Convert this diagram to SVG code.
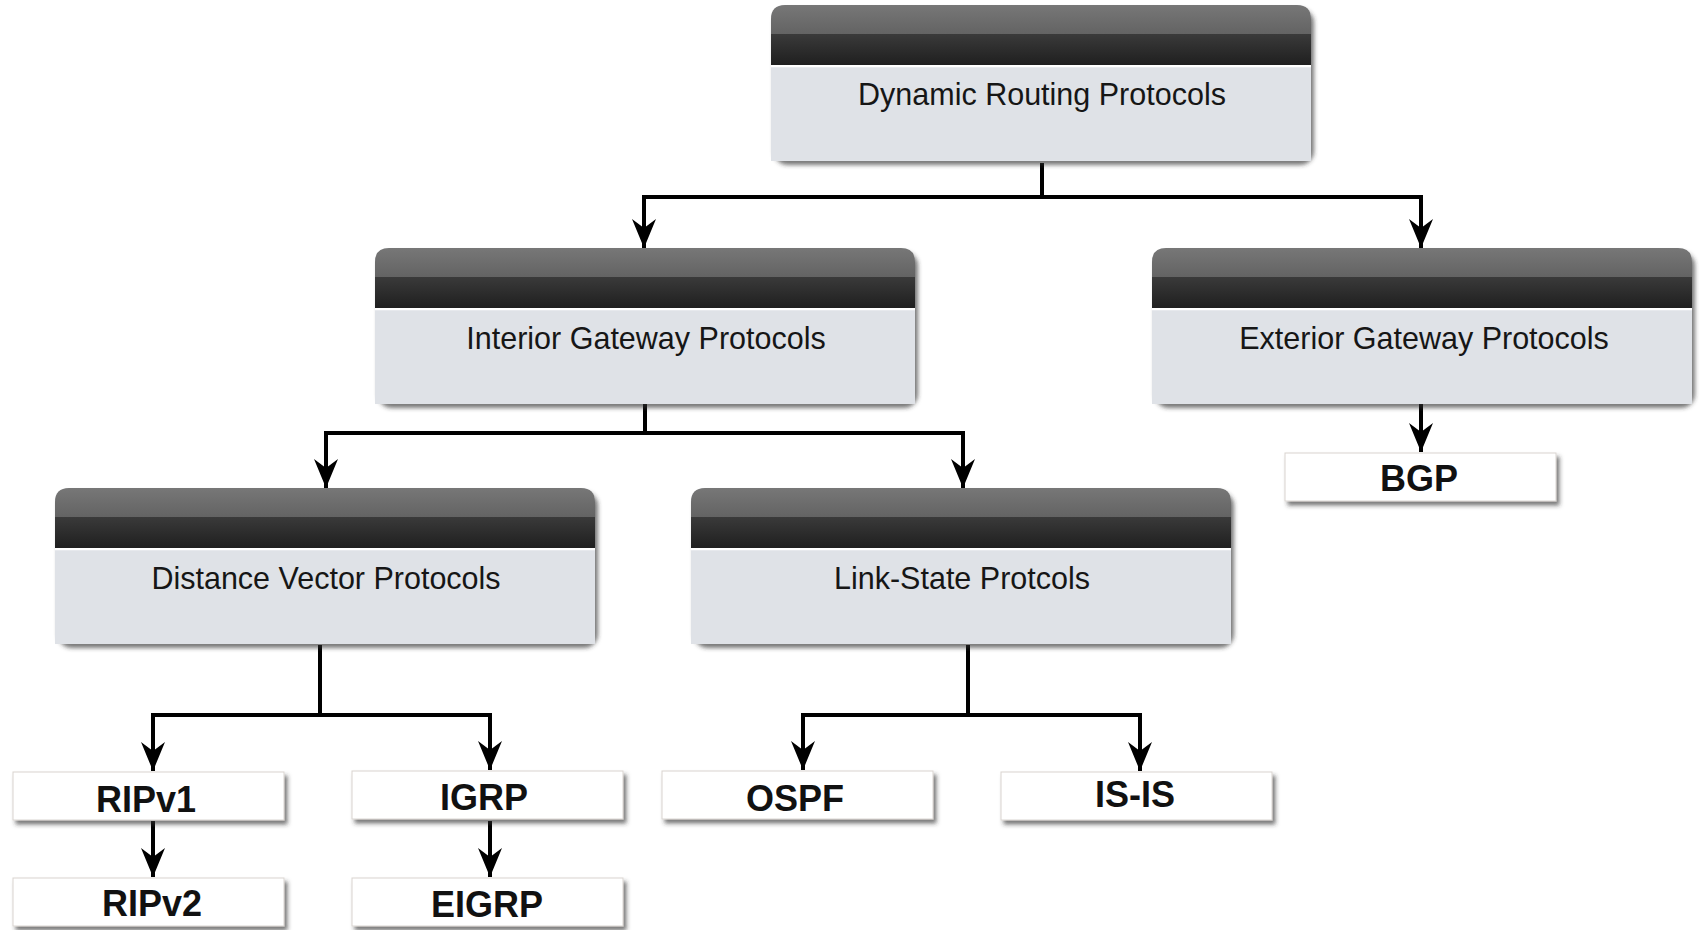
<svg xmlns="http://www.w3.org/2000/svg" xmlns:xlink="http://www.w3.org/1999/xlink" width="1700" height="930" viewBox="0 0 1700 930">
  <defs>
    <linearGradient id="hdrTop" x1="0" y1="0" x2="0" y2="1">
      <stop offset="0" stop-color="#777777"/>
      <stop offset="1" stop-color="#4e4e4e"/>
    </linearGradient>
    <linearGradient id="hdrBottom" x1="0" y1="0" x2="0" y2="1">
      <stop offset="0" stop-color="#3a3a3a"/>
      <stop offset="1" stop-color="#1f1f1f"/>
    </linearGradient>
    <filter id="shadow" x="-5%" y="-10%" width="115%" height="130%">
      <feDropShadow dx="3" dy="4" stdDeviation="2" flood-color="#303030" flood-opacity="0.65"/>
    </filter>
    <marker id="arrow" markerUnits="userSpaceOnUse" markerWidth="30" markerHeight="26" viewBox="0 -13 30 26" refX="29" refY="0" orient="auto">
      <path d="M0,-12 L29,0 L0,12 L9,0 Z" fill="#000"/>
    </marker>
    <!-- category box: dark rounded header over a light panel, 540 x 156 -->
    <g id="catBox">
      <g filter="url(#shadow)">
        <rect x="0" y="0" width="540" height="156" rx="14" fill="#dfe2e7"/>
      </g>
      <path d="M0,60 V14 Q0,0 14,0 H526 Q540,0 540,14 V60 Z" fill="url(#hdrTop)"/>
      <rect x="0" y="29" width="540" height="31" fill="url(#hdrBottom)"/>
      <rect x="0" y="60" width="540" height="2.5" fill="#ffffff"/>
      <rect x="0" y="62.5" width="540" height="93.5" fill="#dfe2e7"/>
    </g>
    <!-- protocol leaf box, 271 x 48 -->
    <rect id="leafBox" x="0" y="0" width="271" height="48" fill="#ffffff" stroke="#d9d4d0" stroke-width="1"/>
    <style>
      .cat { font-family: "Liberation Sans", Arial, sans-serif; font-size: 30.5px; fill: #161616; text-anchor: middle; }
      .leaf { font-family: "Liberation Sans", Arial, sans-serif; font-size: 36px; font-weight: bold; fill: #111111; text-anchor: middle; }
      .conn { fill: none; stroke: #000; stroke-width: 4; stroke-linejoin: miter; stroke-linecap: butt; marker-end: url(#arrow); }
      .leafg { filter: url(#shadow); }
    </style>
  </defs>

  <rect width="1700" height="930" fill="#ffffff"/>

  <!-- connectors -->
  <g id="connectors">
    <path class="conn" d="M1042,163 V197 H644 V248"/>
    <path class="conn" d="M1042,197 H1421 V248"/>
    <path class="conn" d="M645,404 V433 H326 V488"/>
    <path class="conn" d="M645,433 H963 V488"/>
    <path class="conn" d="M1421,404 V452"/>
    <path class="conn" d="M320,645 V715 H153 V771"/>
    <path class="conn" d="M320,715 H490 V770"/>
    <path class="conn" d="M968,645 V715 H803 V770"/>
    <path class="conn" d="M968,715 H1140 V771"/>
    <path class="conn" d="M153,821 V877"/>
    <path class="conn" d="M490,821 V877"/>
  </g>

  <!-- category nodes -->
  <g id="dynamic-routing">
    <use xlink:href="#catBox" x="771" y="5"/>
    <text class="cat" x="1042" y="105">Dynamic Routing Protocols</text>
  </g>
  <g id="interior-gateway">
    <use xlink:href="#catBox" x="375" y="248"/>
    <text class="cat" x="646" y="349">Interior Gateway Protocols</text>
  </g>
  <g id="exterior-gateway">
    <use xlink:href="#catBox" x="1152" y="248"/>
    <text class="cat" x="1424" y="349">Exterior Gateway Protocols</text>
  </g>
  <g id="distance-vector">
    <use xlink:href="#catBox" x="55" y="488"/>
    <text class="cat" x="326" y="589">Distance Vector Protocols</text>
  </g>
  <g id="link-state">
    <use xlink:href="#catBox" x="691" y="488"/>
    <text class="cat" x="962" y="589">Link-State Protcols</text>
  </g>

  <!-- protocol nodes -->
  <g id="bgp">
    <use xlink:href="#leafBox" class="leafg" x="1285" y="453"/>
    <text class="leaf" x="1419" y="491">BGP</text>
  </g>
  <g id="ripv1">
    <use xlink:href="#leafBox" class="leafg" x="13" y="772"/>
    <text class="leaf" x="146" y="812">RIPv1</text>
  </g>
  <g id="igrp">
    <use xlink:href="#leafBox" class="leafg" x="352" y="771"/>
    <text class="leaf" x="484" y="810">IGRP</text>
  </g>
  <g id="ospf">
    <use xlink:href="#leafBox" class="leafg" x="662" y="771"/>
    <text class="leaf" x="795" y="811">OSPF</text>
  </g>
  <g id="is-is">
    <use xlink:href="#leafBox" class="leafg" x="1001" y="772"/>
    <text class="leaf" x="1135" y="807">IS-IS</text>
  </g>
  <g id="ripv2">
    <use xlink:href="#leafBox" class="leafg" x="13" y="878"/>
    <text class="leaf" x="152" y="916">RIPv2</text>
  </g>
  <g id="eigrp">
    <use xlink:href="#leafBox" class="leafg" x="352" y="878"/>
    <text class="leaf" x="487" y="917">EIGRP</text>
  </g>
</svg>
